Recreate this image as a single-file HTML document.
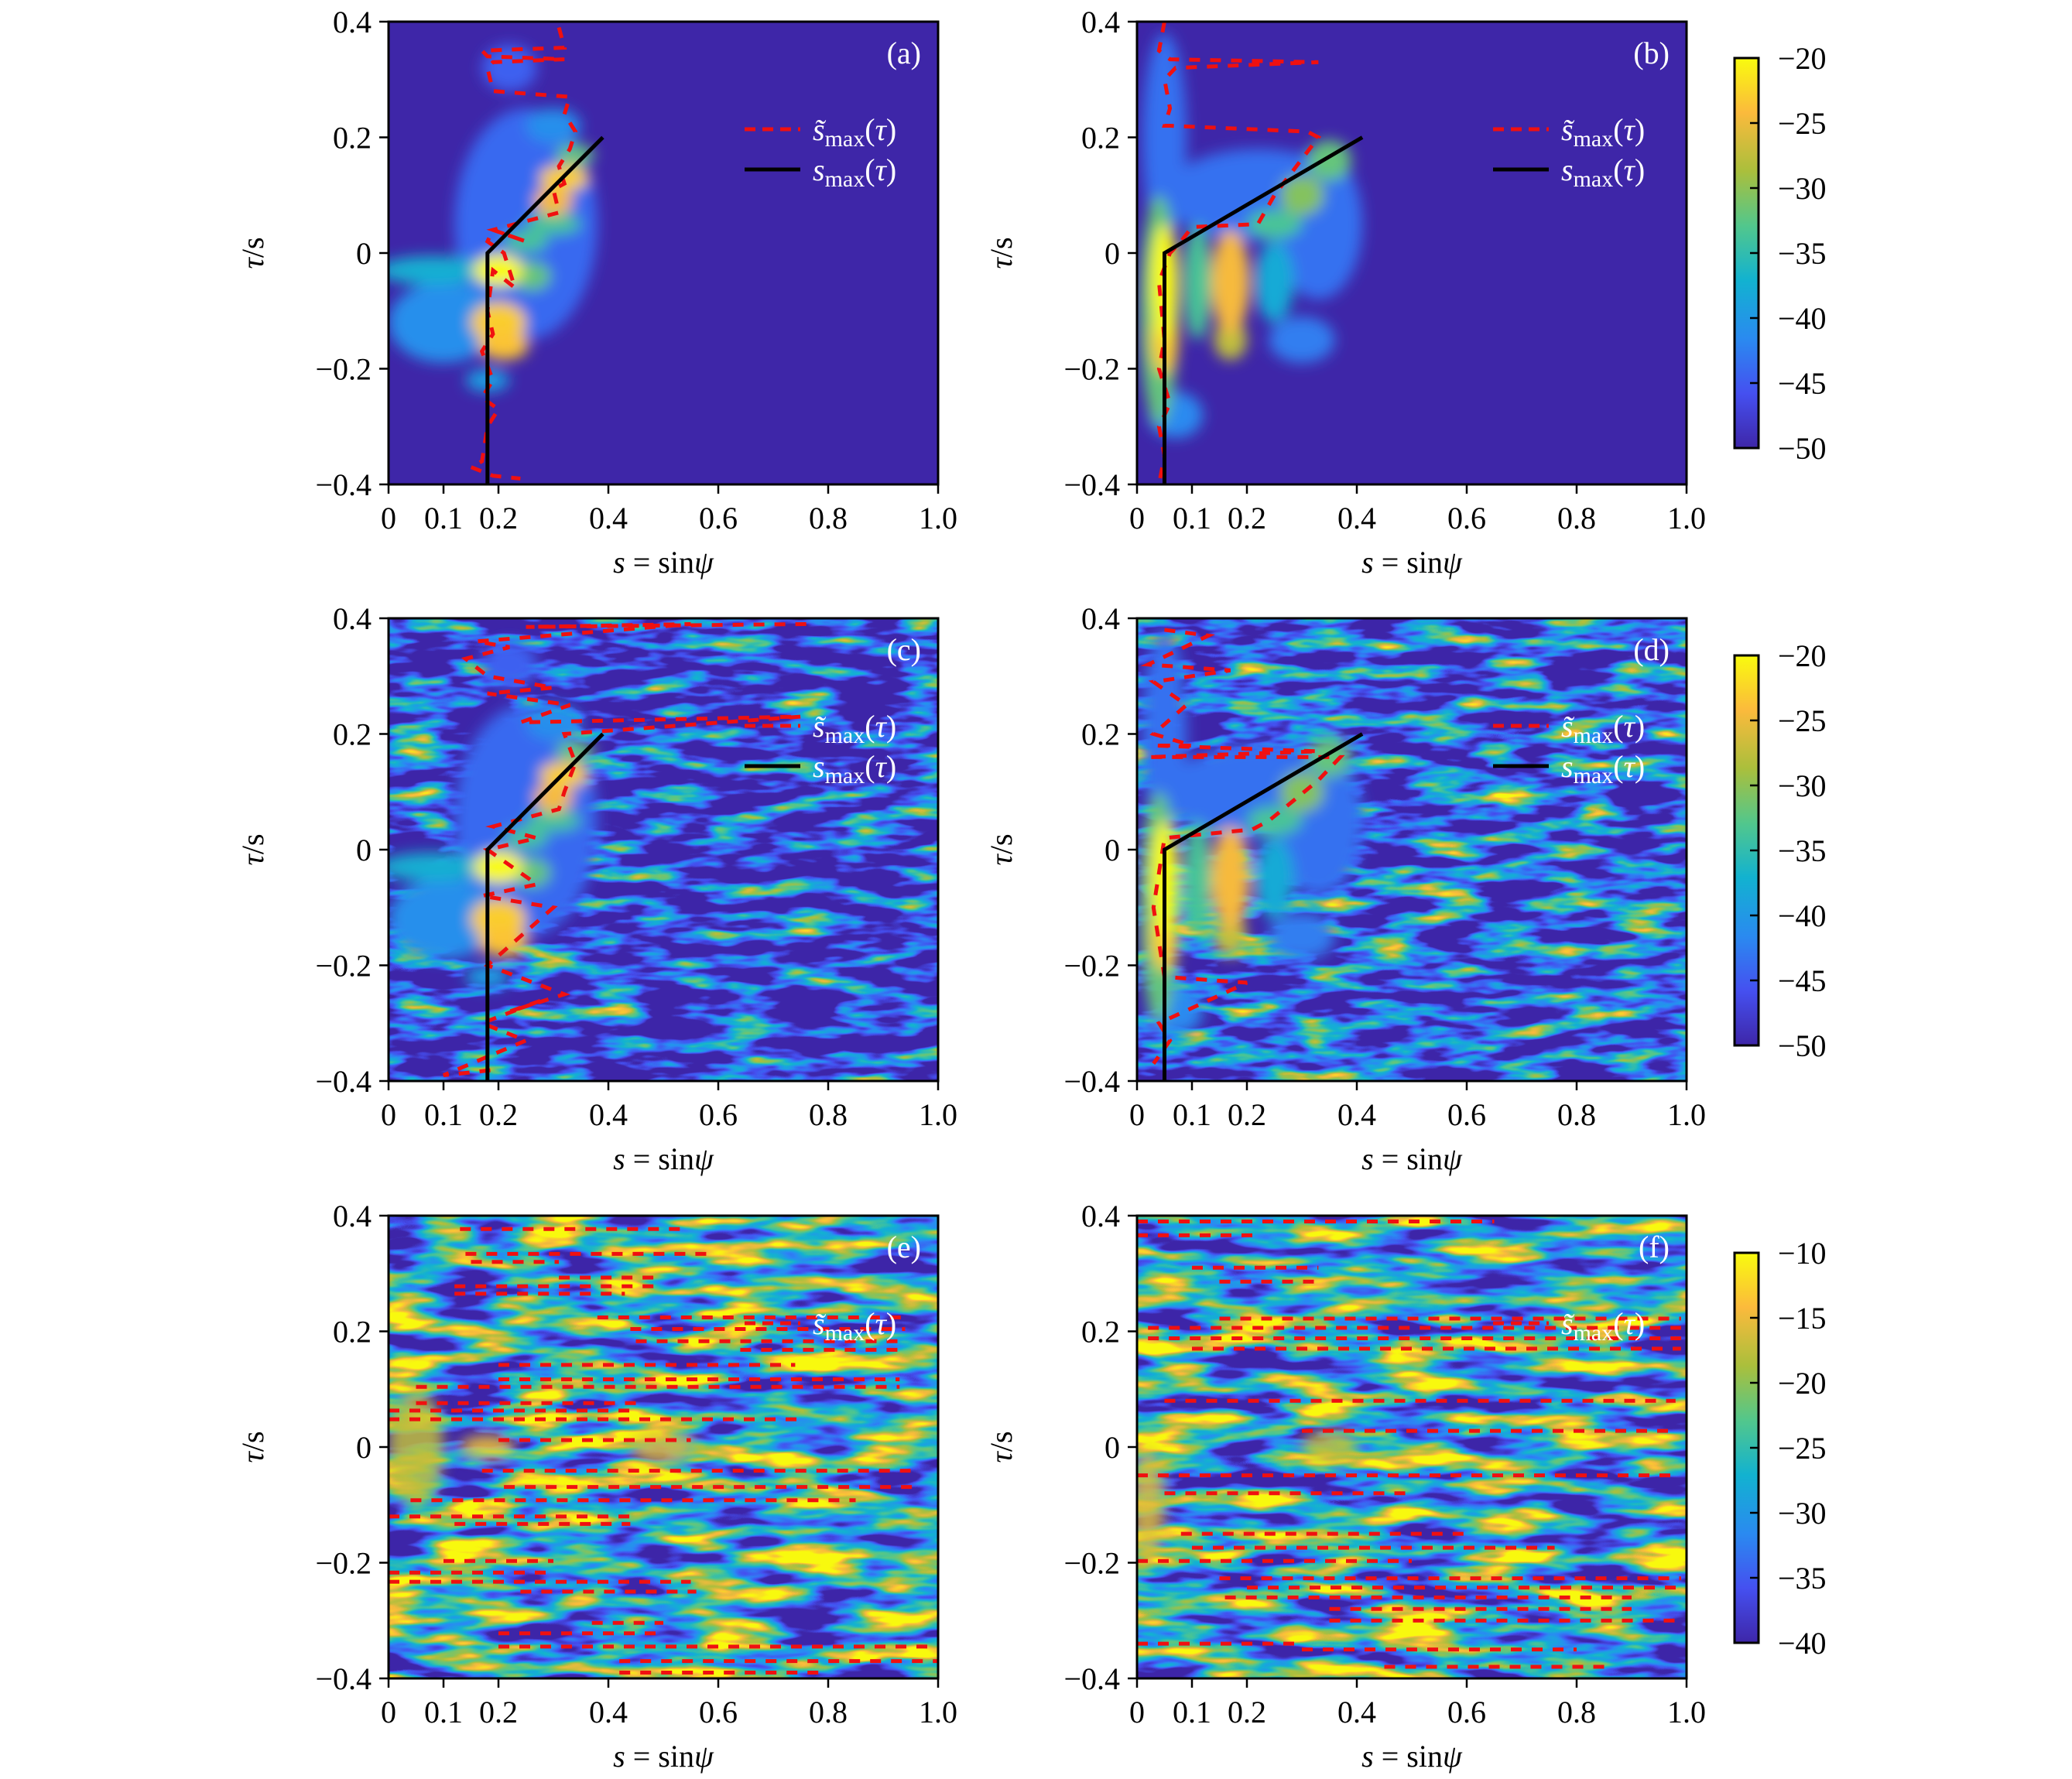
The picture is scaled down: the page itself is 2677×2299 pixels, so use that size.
<!DOCTYPE html>
<html><head><meta charset="utf-8">
<style>
html,body{margin:0;padding:0;background:#fff;}
svg{display:block;}
text{font-family:"Liberation Serif","DejaVu Serif",serif;}
</style></head>
<body>
<svg id="fig" xmlns="http://www.w3.org/2000/svg" width="2677" height="2299" viewBox="0 0 2677 2299">
<defs>
<filter id="blur" x="-50%" y="-50%" width="200%" height="200%"><feGaussianBlur stdDeviation="9"/></filter>
<filter id="nC" x="0" y="0" width="1" height="1" color-interpolation-filters="sRGB">
 <feTurbulence type="fractalNoise" baseFrequency="0.012 0.05" numOctaves="3" seed="4"/>
 <feColorMatrix type="matrix" values="2.2 0 0 0 -1.0  2.2 0 0 0 -1.0  2.2 0 0 0 -1.0  0 0 0 0 1"/>
 <feComponentTransfer>
  <feFuncR type="table" tableValues="0.243 0.27 0.165 0.07 0.32 0.67 0.98 0.976"/>
  <feFuncG type="table" tableValues="0.149 0.31 0.54 0.70 0.78 0.75 0.73 0.98"/>
  <feFuncB type="table" tableValues="0.659 0.94 0.96 0.82 0.55 0.24 0.24 0.055"/>
 </feComponentTransfer>
</filter>
<filter id="nD" x="0" y="0" width="1" height="1" color-interpolation-filters="sRGB">
 <feTurbulence type="fractalNoise" baseFrequency="0.012 0.05" numOctaves="3" seed="9"/>
 <feColorMatrix type="matrix" values="2.2 0 0 0 -0.9  2.2 0 0 0 -0.9  2.2 0 0 0 -0.9  0 0 0 0 1"/>
 <feComponentTransfer>
  <feFuncR type="table" tableValues="0.243 0.27 0.165 0.07 0.32 0.67 0.98 0.976"/>
  <feFuncG type="table" tableValues="0.149 0.31 0.54 0.70 0.78 0.75 0.73 0.98"/>
  <feFuncB type="table" tableValues="0.659 0.94 0.96 0.82 0.55 0.24 0.24 0.055"/>
 </feComponentTransfer>
</filter>
<filter id="nE" x="0" y="0" width="1" height="1" color-interpolation-filters="sRGB">
 <feTurbulence type="fractalNoise" baseFrequency="0.009 0.04" numOctaves="3" seed="2"/>
 <feColorMatrix type="matrix" values="2.5 0 0 0 -0.8  2.5 0 0 0 -0.8  2.5 0 0 0 -0.8  0 0 0 0 1"/>
 <feComponentTransfer>
  <feFuncR type="table" tableValues="0.243 0.27 0.165 0.07 0.32 0.67 0.98 0.976"/>
  <feFuncG type="table" tableValues="0.149 0.31 0.54 0.70 0.78 0.75 0.73 0.98"/>
  <feFuncB type="table" tableValues="0.659 0.94 0.96 0.82 0.55 0.24 0.24 0.055"/>
 </feComponentTransfer>
</filter>
<filter id="nF" x="0" y="0" width="1" height="1" color-interpolation-filters="sRGB">
 <feTurbulence type="fractalNoise" baseFrequency="0.009 0.04" numOctaves="3" seed="7"/>
 <feColorMatrix type="matrix" values="2.5 0 0 0 -0.83  2.5 0 0 0 -0.83  2.5 0 0 0 -0.83  0 0 0 0 1"/>
 <feComponentTransfer>
  <feFuncR type="table" tableValues="0.243 0.27 0.165 0.07 0.32 0.67 0.98 0.976"/>
  <feFuncG type="table" tableValues="0.149 0.31 0.54 0.70 0.78 0.75 0.73 0.98"/>
  <feFuncB type="table" tableValues="0.659 0.94 0.96 0.82 0.55 0.24 0.24 0.055"/>
 </feComponentTransfer>
</filter>
<linearGradient id="parula" x1="0" y1="1" x2="0" y2="0">
 <stop offset="0" stop-color="#3e26a8"/><stop offset="0.14" stop-color="#4550f0"/>
 <stop offset="0.28" stop-color="#2a8af0"/><stop offset="0.43" stop-color="#12b2d0"/>
 <stop offset="0.57" stop-color="#52c78c"/><stop offset="0.71" stop-color="#aabf3c"/>
 <stop offset="0.86" stop-color="#fbba3c"/><stop offset="1" stop-color="#f9fb0e"/>
</linearGradient>
</defs>
</svg>
<script>
// ---- data ----
const panelIds = ['a','b','c','d','e','f'];
const xTicks = [0, 0.1, 0.2, 0.4, 0.6, 0.8, 1.0];
const xTickLabels = ['0','0.1','0.2','0.4','0.6','0.8','1.0'];
const yTicks = [0.4, 0.2, 0, -0.2, -0.4];
const yTickLabels = ['0.4','0.2','0','\u22120.2','\u22120.4'];
const cbTicksTop = [-20,-25,-30,-35,-40,-45,-50];
const cbTicksBottom = [-10,-15,-20,-25,-30,-35,-40];
const smaxA = [[0.18,-0.4],[0.18,0],[0.39,0.2]];
const smaxB = [[0.05,-0.4],[0.05,0],[0.41,0.2]];
const estA_s = [0.31,0.32,0.17,0.18,0.32,0.19,0.18,0.19,0.33,0.32,0.34,0.33,0.31,0.32,0.30,0.31,0.19,0.25,0.19,0.18,0.21,0.23,0.19,0.18,0.19,0.17,0.19,0.17,0.20,0.18,0.17,0.15,0.19,0.24];
const estA_t = [0.39,0.355,0.35,0.34,0.335,0.33,0.32,0.28,0.27,0.24,0.21,0.18,0.15,0.12,0.11,0.07,0.04,0.02,0.04,0.02,0.0,-0.06,-0.03,-0.1,-0.14,-0.17,-0.22,-0.25,-0.27,-0.3,-0.36,-0.37,-0.385,-0.39];
const estB_s = [0.05,0.04,0.06,0.33,0.07,0.05,0.06,0.05,0.06,0.31,0.33,0.29,0.25,0.22,0.10,0.08,0.06,0.04,0.05,0.04,0.06,0.04,0.05,0.04];
const estB_t = [0.40,0.35,0.335,0.33,0.32,0.30,0.25,0.22,0.22,0.21,0.20,0.15,0.10,0.05,0.045,0.02,0.0,-0.05,-0.15,-0.2,-0.26,-0.3,-0.35,-0.40];
const estC_s = [0.76,0.25,0.55,0.16,0.22,0.14,0.18,0.30,0.18,0.33,0.24,0.75,0.32,0.34,0.32,0.31,0.19,0.27,0.18,0.27,0.17,0.30,0.18,0.32,0.22,0.28,0.17,0.25,0.10,0.20];
const estC_t = [0.39,0.385,0.39,0.36,0.35,0.33,0.30,0.28,0.27,0.25,0.22,0.23,0.20,0.15,0.10,0.07,0.04,0.02,0.0,-0.06,-0.08,-0.1,-0.2,-0.25,-0.28,-0.26,-0.3,-0.33,-0.39,-0.38];
const estD_s = [0.05,0.13,0.02,0.17,0.03,0.09,0.03,0.10,0.03,0.33,0.02,0.37,0.33,0.24,0.21,0.05,0.03,0.05,0.20,0.04,0.06,0.03];
const estD_t = [0.38,0.37,0.32,0.31,0.29,0.25,0.20,0.18,0.18,0.17,0.16,0.16,0.12,0.05,0.035,0.02,-0.1,-0.22,-0.23,-0.3,-0.33,-0.37];
const segE = [[0.377,0.13,0.54],[0.334,0.14,0.58],[0.32,0.15,0.31],[0.293,0.31,0.49],[0.278,0.12,0.49],[0.265,0.12,0.43],[0.224,0.38,0.94],[0.204,0.44,0.94],[0.183,0.45,0.94],[0.168,0.64,0.94],[0.142,0.2,0.74],[0.117,0.2,0.93],[0.104,0.05,0.93],[0.076,0.05,0.45],[0.063,0.0,0.45],[0.048,0.0,0.76],[0.012,0.2,0.55],[-0.041,0.17,0.95],[-0.069,0.21,0.96],[-0.092,0.04,0.85],[-0.12,0.0,0.44],[-0.133,0.12,0.44],[-0.197,0.1,0.3],[-0.217,0.0,0.3],[-0.233,0.0,0.55],[-0.25,0.24,0.56],[-0.304,0.37,0.5],[-0.322,0.2,0.5],[-0.345,0.2,1.0],[-0.37,0.42,1.0],[-0.39,0.42,0.8]];
const segF = [[0.39,0.0,0.65],[0.366,0.0,0.22],[0.31,0.1,0.33],[0.286,0.15,0.33],[0.222,0.15,0.99],[0.206,0.02,0.99],[0.188,0.02,0.99],[0.17,0.1,0.99],[0.08,0.05,0.98],[0.028,0.3,0.98],[-0.049,0.0,0.98],[-0.08,0.05,0.5],[-0.15,0.08,0.6],[-0.174,0.1,0.76],[-0.197,0.0,0.5],[-0.227,0.15,0.99],[-0.243,0.2,0.99],[-0.26,0.16,0.9],[-0.28,0.35,0.9],[-0.3,0.35,0.99],[-0.34,0.0,0.3],[-0.35,0.3,0.8],[-0.38,0.45,0.85]];
const blobsA = [[0.25,0.05,0.13,0.2,0.2],[0.1,-0.12,0.1,0.07,0.3],[0.08,-0.03,0.1,0.025,0.42],[0.3,0.22,0.05,0.03,0.3],[0.22,0.32,0.05,0.04,0.18],[0.18,-0.22,0.04,0.02,0.35],[0.3,0.05,0.05,0.018,0.55],[0.25,0.02,0.04,0.018,0.55],[0.26,-0.04,0.035,0.025,0.6],[0.34,0.17,0.035,0.018,0.6],[0.3,0.09,0.035,0.025,0.85],[0.32,0.13,0.045,0.022,0.9],[0.2,-0.12,0.05,0.035,0.9],[0.21,-0.16,0.045,0.025,0.88],[0.2,-0.03,0.045,0.028,1.0]];
const blobsB = [[0.22,0.1,0.17,0.08,0.22],[0.33,0.05,0.08,0.13,0.22],[0.05,0.2,0.04,0.18,0.22],[0.3,-0.15,0.06,0.04,0.25],[0.07,-0.28,0.05,0.04,0.28],[0.25,-0.05,0.035,0.07,0.4],[0.04,-0.1,0.035,0.2,0.6],[0.11,-0.05,0.025,0.1,0.55],[0.25,0.05,0.05,0.025,0.55],[0.35,0.16,0.04,0.035,0.6],[0.3,0.1,0.04,0.035,0.65],[0.17,-0.15,0.03,0.035,0.75],[0.17,-0.05,0.035,0.09,0.85],[0.05,-0.15,0.025,0.06,0.9],[0.05,-0.05,0.025,0.1,1.0]];
const blobsE = [[0.05,0.0,0.05,0.1,0.75],[0.5,0.0,0.06,0.03,0.8],[0.18,0.0,0.05,0.02,0.9]];
const blobsF = [[0.02,-0.1,0.03,0.1,0.8],[0.35,0.0,0.05,0.03,0.75]];

// ---- layout ----
const NS='http://www.w3.org/2000/svg';
const svg=document.getElementById('fig');
const W=710,H=598;
const origins={a:[502,28],b:[1469,28],c:[502,799],d:[1469,799],e:[502,1571],f:[1469,1571]};
const cmapStops=[[0,'#3e26a8'],[0.14,'#4550f0'],[0.28,'#2a8af0'],[0.43,'#12b2d0'],[0.57,'#52c78c'],[0.71,'#aabf3c'],[0.86,'#fbba3c'],[1,'#f9fb0e']];
function hex(h){return [1,3,5].map(i=>parseInt(h.substr(i,2),16));}
function cmap(v){v=Math.max(0,Math.min(1,v));for(let i=1;i<cmapStops.length;i++){if(v<=cmapStops[i][0]){const a=cmapStops[i-1],b=cmapStops[i];const f=(v-a[0])/(b[0]-a[0]);const A=hex(a[1]),B=hex(b[1]);return 'rgb('+A.map((x,k)=>Math.round(x+(B[k]-x)*f)).join(',')+')';}}return cmapStops[7][1];}
function mk(tag,attrs,parent){const e=document.createElementNS(NS,tag);for(const k in attrs)e.setAttribute(k,attrs[k]);(parent||svg).appendChild(e);return e;}

function drawPanel(id){
  const [ox,oy]=origins[id];
  const sx=s=>ox+s*W, ty=t=>oy+(0.4-t)/0.8*H;
  const g=mk('g',{});
  
  
  const cp=mk('clipPath',{id:'clip-'+id},g);
  mk('rect',{x:ox,y:oy,width:W,height:H},cp);
  const hm=mk('g',{'clip-path':'url(#clip-'+id+')'},g);
  
  
  mk('rect',{x:ox,y:oy,width:W,height:H,fill:'#3e26a8'},hm);
  const nf={c:'nC',d:'nD',e:'nE',f:'nF'}[id];
  if(nf){mk('rect',{x:ox,y:oy,width:W,height:H,fill:'#000',filter:'url(#'+nf+')'},hm);}
  const blobs={a:blobsA,b:blobsB,c:blobsA,d:blobsB,e:blobsE,f:blobsF}[id];
  const bg=mk('g',{filter:'url(#blur)'},hm);
  blobs.forEach(bl=>{
    const el=mk('ellipse',{cx:sx(bl[0]),cy:ty(bl[1]),rx:bl[2]*W,ry:bl[3]/0.8*H,fill:cmap(bl[4]),opacity:(id==='e'||id==='f')?0.85:1},bg);
    
    
  });
  const red={stroke:'#f01010','stroke-width':5,fill:'none','stroke-dasharray':'14 13'};
  if(id==='e'||id==='f'){
    (id==='e'?segE:segF).forEach(sg=>{
      const l=mk('line',Object.assign({x1:sx(sg[1]),y1:ty(sg[0]),x2:sx(sg[2]),y2:ty(sg[0])},red),hm);
      
      
    });
  } else {
    const S={a:estA_s,b:estB_s,c:estC_s,d:estD_s}[id], T={a:estA_t,b:estB_t,c:estC_t,d:estD_t}[id];
    const p=mk('polyline',Object.assign({points:S.map((s,i)=>sx(s)+','+ty(T[i])).join(' ')},red),hm);
    
    
    const M=(id==='a'||id==='c')?smaxA:smaxB;
    const bl=mk('polyline',{points:M.map(q=>sx(q[0])+','+ty(q[1])).join(' '),stroke:'#000','stroke-width':5,fill:'none'},hm);
    
    
  }
  mk('rect',{x:ox,y:oy,width:W,height:H,fill:'none',stroke:'#000','stroke-width':3},g);
  xTicks.forEach((v,i)=>{
    mk('line',{x1:sx(v),y1:oy+H,x2:sx(v),y2:oy+H+12,stroke:'#000','stroke-width':2.5},g);
    const t=mk('text',{x:sx(v),y:oy+H+57,'font-size':40,'text-anchor':'middle'},g);
    t.textContent=xTickLabels[i];
    
    
  });
  yTicks.forEach((v,i)=>{
    mk('line',{x1:ox-12,y1:ty(v),x2:ox,y2:ty(v),stroke:'#000','stroke-width':2.5},g);
    const t=mk('text',{x:ox-22,y:ty(v)+14,'font-size':40,'text-anchor':'end'},g);
    t.textContent=yTickLabels[i];
    
    
  });
  const xl=mk('text',{x:ox+W/2,y:oy+H+114,'font-size':40,'text-anchor':'middle'},g);
  xl.innerHTML='<tspan font-style="italic">s</tspan> = sin<tspan font-style="italic">ψ</tspan>';
  
  
  const yl=mk('text',{x:0,y:0,'font-size':40,'text-anchor':'middle',transform:'translate('+(ox-162)+','+(oy+H/2)+') rotate(-90)'},g);
  yl.innerHTML='<tspan font-style="italic">τ</tspan>/s';
  
  
  const pl=mk('text',{x:ox+W-22,y:oy+54,'font-size':40,'text-anchor':'end',fill:'#fff'},g);
  pl.textContent='('+id+')';
  
  
  const lg=mk('g',{},g);
  
  
  const lx=ox+460, ly1=oy+139, ly2=oy+191;
  mk('line',Object.assign({x1:lx,y1:ly1,x2:lx+72,y2:ly1},red,{'stroke-dasharray':'14 9'}),lg);
  const t1=mk('text',{x:lx+88,y:ly1+14,'font-size':40,fill:'#fff'},lg);
  t1.innerHTML='<tspan font-style="italic">s̃</tspan><tspan font-size="30" dy="8">max</tspan><tspan dy="-8">(</tspan><tspan font-style="italic">τ</tspan>)';
  
  
  if(!(id==='e'||id==='f')){
    mk('line',{x1:lx,y1:ly2,x2:lx+72,y2:ly2,stroke:'#000','stroke-width':5},lg);
    const t2=mk('text',{x:lx+88,y:ly2+14,'font-size':40,fill:'#fff'},lg);
    t2.innerHTML='<tspan font-style="italic">s</tspan><tspan font-size="30" dy="8">max</tspan><tspan dy="-8">(</tspan><tspan font-style="italic">τ</tspan>)';
    
    
  }
}
panelIds.forEach(drawPanel);

[[75,cbTicksTop],[847,cbTicksTop],[1619,cbTicksBottom]].forEach((cb,k)=>{
  const g=mk('g',{});
  
  
  const x=2241,w=31,y=cb[0],h=504, ticks=cb[1];
  mk('rect',{x:x,y:y,width:w,height:h,fill:'url(#parula)',stroke:'#000','stroke-width':3},g);
  const vmax=ticks[0], vmin=ticks[ticks.length-1];
  ticks.forEach(v=>{
    const yy=y+(vmax-v)/(vmax-vmin)*h;
    mk('line',{x1:x+w-11,y1:yy,x2:x+w,y2:yy,stroke:'#000','stroke-width':2.5},g);
    const t=mk('text',{x:x+w+25,y:yy+14,'font-size':40},g);
    t.textContent='\u2212'+Math.abs(v);
    
    
  });
});
</script>
</body></html>
